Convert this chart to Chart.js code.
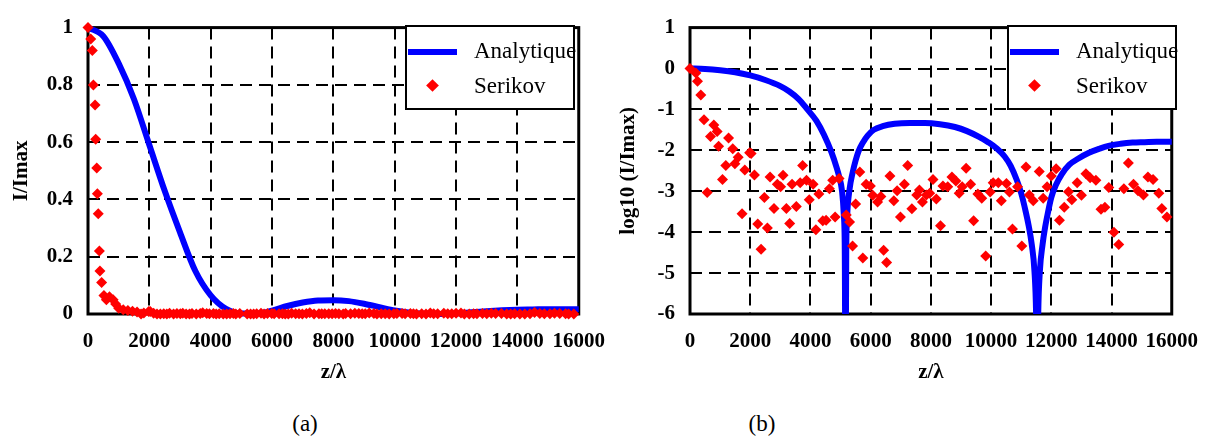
<!DOCTYPE html>
<html>
<head>
<meta charset="utf-8">
<script src="https://cdn.jsdelivr.net/npm/chart.js@4.4.1/dist/chart.umd.min.js"></script>
<style>
  body { margin: 0; background: #fff; width: 1213px; height: 436px; position: relative; overflow: hidden; }
  canvas { position: absolute; top: 0; }
  #chartA { left: 0; }
  #chartB { left: 600px; }
  .legend { position: absolute; top: 25px; width: 166px; height: 81px; border: 2px solid #000; background: #fff; }
  .legend .line { position: absolute; left: 1px; top: 22px; width: 49px; height: 6px; background: #0000ff; }
  .legend .dia { position: absolute; left: 21px; top: 54px; width: 9px; height: 9px; background: #ff0000; transform: rotate(45deg); }
  .legend .txt { position: absolute; left: 67px; font-size: 23px; line-height: 23px; white-space: nowrap; color: #000; }
  .cap { position: absolute; top: 412px; width: 60px; text-align: center; font-size: 23px; line-height: 23px; color: #000; }
</style>
</head>
<body>
<canvas id="chartA" width="620" height="400"></canvas>
<canvas id="chartB" width="613" height="400"></canvas>

<div class="legend" style="left:405px">
  <div class="line"></div><div class="txt" style="top:12px">Analytique</div>
  <div class="dia"></div><div class="txt" style="top:47px">Serikov</div>
</div>
<div class="legend" style="left:1007px">
  <div class="line"></div><div class="txt" style="top:12px">Analytique</div>
  <div class="dia"></div><div class="txt" style="top:47px">Serikov</div>
</div>
<div class="cap" style="left:275px">(a)</div>
<div class="cap" style="left:732px">(b)</div>

<script>
// ── Data ──────────────────────────────────────────────────
// (a) analytic I/Imax
const zAnalyticA = [0, 500, 1000, 1500, 2000, 2500, 3000, 3500, 4000, 4500, 5000, 5500, 6000, 6500, 7000, 7500,
  8000, 8500, 9000, 9500, 10000, 10500, 11000, 11500, 12000, 12500, 13000, 13500, 14000, 14500, 15000, 15500, 16000];
const intensityAnalyticA = [1.0, 0.97, 0.875, 0.75, 0.59, 0.43, 0.285, 0.15, 0.065, 0.018, 0.002, 0.002, 0.012, 0.028,
  0.04, 0.047, 0.048, 0.045, 0.036, 0.024, 0.012, 0.004, 0.001, 0.0, 0.002, 0.006, 0.01, 0.013, 0.015, 0.016, 0.017, 0.017, 0.017];

// (a) Serikov points near the origin (finer than in (b))
const zSerikovEarlyA = [90, 140, 175, 230, 250, 285, 305, 335, 370, 390, 445, 520, 600, 700, 820, 900, 1000, 1150, 1300, 1450];
const intensitySerikovEarlyA = [0.96, 0.92, 0.8, 0.73, 0.61, 0.51, 0.42, 0.35, 0.22, 0.15, 0.11, 0.065, 0.05, 0.06,
  0.05, 0.035, 0.02, 0.015, 0.012, 0.01];

// (b) analytic log10(I/Imax); values below -6 are the zeros, cut by the axis
const zAnalyticB = [0, 500, 1000, 1500, 2000, 2500, 3000, 3300, 3600, 3900, 4200, 4450, 4700, 4870, 4950, 5050, 5110,
  5140, 5165, 5190, 5220, 5300, 5400, 5500, 5600, 5750, 5900, 6100, 6400, 6800, 7300, 7800, 8300, 8800, 9200, 9600,
  9900, 10200, 10450, 10650, 10850, 11000, 11150, 11250, 11350, 11440, 11495, 11530, 11565, 11620, 11710, 11790, 11880,
  12000, 12150, 12350, 12600, 12900, 13250, 13600, 13900, 14300, 14700, 15100, 15500, 16000];
const logAnalyticB = [0, -0.01, -0.04, -0.09, -0.17, -0.28, -0.43, -0.56, -0.74, -1.0, -1.28, -1.62, -2.05, -2.42, -2.63,
  -3.0, -3.6, -4.4, -8, -4.4, -3.6, -2.95, -2.55, -2.25, -2.02, -1.8, -1.64, -1.5, -1.41, -1.35, -1.33, -1.33, -1.36,
  -1.43, -1.53, -1.67, -1.8, -1.96, -2.15, -2.38, -2.72, -3.05, -3.5, -3.85, -4.3, -4.95, -6.0, -8, -6.0, -4.95, -4.3,
  -3.9, -3.55, -3.15, -2.85, -2.58, -2.35, -2.2, -2.06, -1.96, -1.89, -1.84, -1.81, -1.8, -1.79, -1.79];

// (b) Serikov log10(I/Imax)
const zSerikov = [0, 195, 250, 360, 465, 570, 680, 790, 900, 950, 1080, 1190, 1280, 1420, 1490, 1600, 1730, 1820, 1980,
  2030, 2140, 2250, 2360, 2470, 2570, 2660, 2790, 2900, 3010, 3090, 3200, 3310, 3390, 3530, 3660, 3740, 3870, 3960, 4090,
  4180, 4280, 4410, 4520, 4630, 4740, 4820, 4950, 5190, 5300, 5400, 5500, 5640, 5740, 5850, 5990, 6070, 6230, 6340, 6430,
  6530, 6640, 6770, 6880, 6990, 7120, 7230, 7370, 7530, 7620, 7720, 7850, 7960, 8070, 8180, 8320, 8400, 8560, 8700, 8830,
  8940, 9040, 9170, 9320, 9420, 9560, 9690, 9820, 9970, 10070, 10240, 10340, 10510, 10610, 10710, 10880, 11020, 11160,
  11270, 11400, 11600, 11730, 11860, 12000, 12160, 12270, 12430, 12570, 12680, 12860, 13000, 13150, 13290, 13480, 13650,
  13780, 13910, 14080, 14240, 14410, 14560, 14730, 14880, 15060, 15210, 15380, 15570, 15670, 15840];
const logSerikov = [0, -0.11, -0.31, -0.65, -1.25, -3.03, -1.66, -1.38, -1.54, -1.9, -2.71, -2.37, -1.7, -1.96, -2.33,
  -2.17, -3.55, -2.48, -2.06, -2.08, -2.6, -3.8, -4.42, -3.15, -3.9, -2.65, -3.42, -2.83, -2.89, -2.61, -3.42, -3.79, -2.83,
  -3.37, -2.79, -2.37, -2.73, -3.21, -2.83, -3.94, -3.07, -3.72, -3.71, -2.94, -2.73, -3.63, -2.69, -3.58, -3.75, -4.34,
  -3.31, -2.53, -4.63, -2.83, -2.87, -3.1, -3.26, -3.13, -4.44, -4.74, -2.63, -3.23, -2.99, -3.63, -2.83, -2.37, -3.43,
  -3.09, -2.97, -3.26, -3.09, -3.05, -2.71, -3.19, -3.84, -2.87, -2.89, -2.65, -2.75, -3.05, -2.89, -2.44, -2.83, -3.72,
  -3.07, -3.17, -4.58, -3.02, -2.79, -2.79, -3.23, -2.81, -3.02, -3.92, -2.89, -4.34, -2.41, -3.09, -3.23, -2.52, -3.17,
  -2.89, -2.63, -2.45, -3.71, -3.39, -3.01, -3.21, -2.79, -3.1, -2.57, -2.67, -2.73, -3.44, -3.39, -2.91, -4.0, -4.3,
  -2.94, -2.31, -2.83, -2.99, -3.09, -2.65, -2.71, -3.05, -3.42, -3.63];

// ── Font: first installed Times-like face ────────────────
function pickFont(list) {
  const c = document.createElement('canvas').getContext('2d');
  const probe = 'Analytique 0123456789 (I/Imax)';
  for (const f of list) {
    let differs = false;
    for (const base of ['monospace', 'sans-serif']) {
      c.font = `30px ${base}`;
      const w0 = c.measureText(probe).width;
      c.font = `30px "${f}", ${base}`;
      if (Math.abs(c.measureText(probe).width - w0) > 0.5) differs = true;
    }
    if (differs) return f;
  }
  return 'serif';
}
const FACE = pickFont(['Liberation Serif', 'Tinos', 'Times New Roman', 'Nimbus Roman', 'Nimbus Roman No9 L',
  'FreeSerif', 'Noto Serif', 'DejaVu Serif']);
const FONT = `"${FACE}", serif`;
const SCALE = /DejaVu|Noto/.test(FACE) ? 0.82 : 1;
document.body.style.fontFamily = FONT;
document.querySelectorAll('.txt, .cap').forEach(el => { el.style.fontSize = Math.round(23 * SCALE) + 'px'; });

const BLUE = '#0000ff';
const RED = '#ff0000';

const pts = (xs, ys) => xs.map((x, i) => ({ x, y: ys[i] }));

// same measurement as (b), shown on the linear scale beyond the near-origin part
const serikovA = pts(zSerikovEarlyA, intensitySerikovEarlyA).concat(
  [{ x: 0, y: 1 }],
  pts(zSerikov, logSerikov).filter(p => p.x >= 1500).map(p => ({ x: p.x, y: Math.pow(10, p.y) }))
);

// black box round the plot area
const framePlugin = {
  id: 'frame',
  beforeDatasetsDraw(chart) {
    const { ctx, chartArea: a } = chart;
    ctx.save();
    ctx.strokeStyle = '#000';
    ctx.lineWidth = 3;
    ctx.strokeRect(a.left, a.top, a.right - a.left, a.bottom - a.top);
    ctx.restore();
  },
};

function makeChart(id, cfg) {
  const tickFont = { family: FONT, size: Math.round(21 * SCALE), weight: 'bold' };
  const grid = { color: '#000', lineWidth: 2, drawTicks: false };
  const border = { display: false, dash: [12, 7] };
  return new Chart(document.getElementById(id), {
    type: 'scatter',
    data: {
      datasets: [
        {
          label: 'Serikov', data: cfg.serikov, pointStyle: 'rectRot', pointRadius: 5.5,
          backgroundColor: RED, borderWidth: 0, clip: false, order: 0,
        },
        {
          label: 'Analytique', data: cfg.analytic, showLine: true, pointRadius: 0, borderColor: BLUE,
          borderWidth: 6, cubicInterpolationMode: 'monotone', clip: cfg.lineClip, order: 1,
        },
      ],
    },
    options: {
      responsive: false,
      animation: false,
      devicePixelRatio: 1,
      layout: { padding: cfg.padding },
      plugins: { legend: { display: false }, tooltip: { enabled: false } },
      scales: {
        x: {
          type: 'linear', min: 0, max: 16000,
          ticks: { stepSize: 2000, autoSkip: false, maxRotation: 0, padding: 15, color: '#000', font: tickFont,
                   callback: v => String(v) },
          grid, border,
          title: { display: true, text: 'z/λ', color: '#000', font: tickFont, padding: { top: 0, bottom: 15 } },
          afterFit: s => { s.height = 86; },
        },
        y: {
          min: cfg.yMin, max: cfg.yMax,
          ticks: { stepSize: cfg.yStep, padding: 15, color: '#000', font: tickFont,
                   callback: v => String(Math.round(v * 10) / 10) },
          grid, border,
          title: { display: true, text: cfg.yTitle, color: '#000', font: tickFont, padding: { top: cfg.yTitlePad, bottom: 0 } },
          afterFit: s => { s.width = cfg.yWidth; },
        },
      },
    },
    plugins: [framePlugin],
  });
}

makeChart('chartA', {
  serikov: serikovA,
  analytic: pts(zAnalyticA, intensityAnalyticA),
  lineClip: 3,
  yMin: 0, yMax: 1, yStep: 0.2,
  yTitle: 'I/Imax', yTitlePad: 9, yWidth: 88,
  padding: { left: 0, top: 20, right: 40, bottom: 0 },
});

makeChart('chartB', {
  serikov: pts(zSerikov, logSerikov),
  analytic: pts(zAnalyticB, logAnalyticB),
  lineClip: { left: 3, top: 3, right: 3, bottom: 0 },
  yMin: -6, yMax: 1, yStep: 1,
  yTitle: 'log10 (I/Imax)', yTitlePad: 16, yWidth: 90,
  padding: { left: 0, top: 20, right: 30, bottom: 0 },
});
</script>
</body>
</html>
